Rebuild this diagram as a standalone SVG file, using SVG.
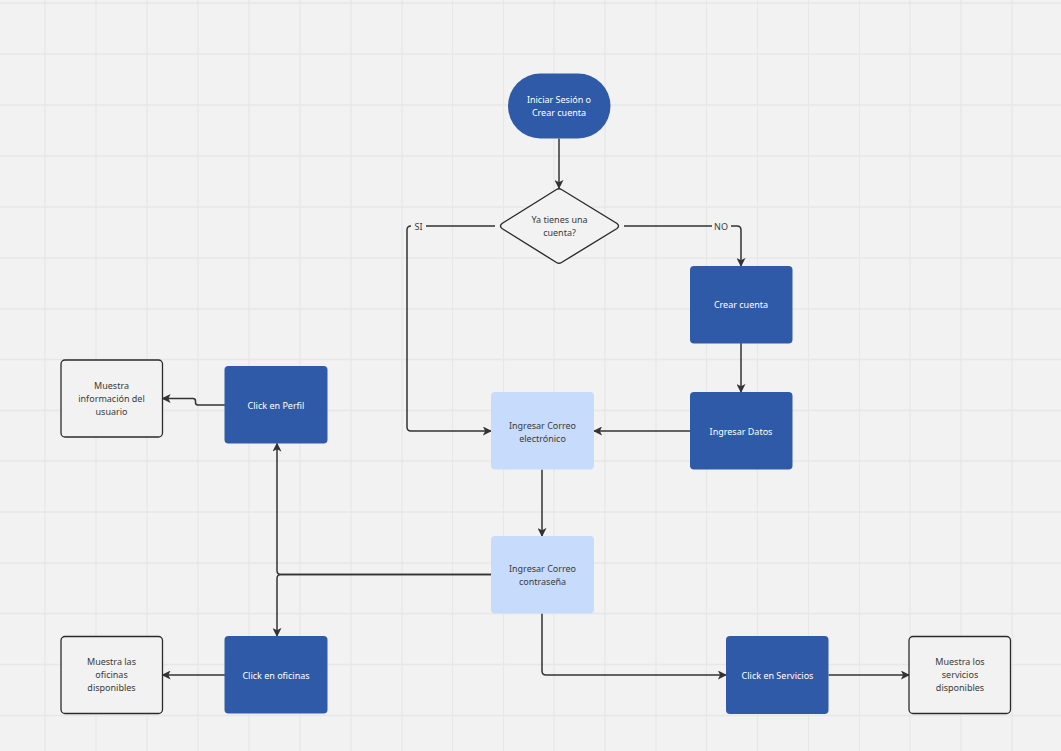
<svg xmlns="http://www.w3.org/2000/svg" width="1061" height="751" viewBox="0 0 1061 751">
  <defs>
    <marker id="arrow" viewBox="0 0 10 10" refX="9" refY="5" markerWidth="9" markerHeight="9" markerUnits="userSpaceOnUse" orient="auto">
      <path d="M0,0 L10,5 L0,10 L2.5,5 Z" fill="#333333"/>
    </marker>
    <style>
      .grid { stroke: #e7e7e7; stroke-width: 1.3; fill: none; }
      .blue { fill: #2f5aa8; }
      .light { fill: #c7dcfc; }
      .outline { fill: #f2f2f2; stroke: #2b2b2b; stroke-width: 1.3; }
      .t { font-family: "Noto Sans", "Open Sans", sans-serif; font-size: 9px; text-anchor: middle; }
      .tw { fill: #ffffff; }
      .td { fill: #3a3a3a; }
      .edge { fill: none; stroke: #333333; stroke-width: 1.5; marker-end: url(#arrow); }
      .lbl { font-family: "Noto Sans", "Open Sans", sans-serif; font-size: 9px; fill: #3a3a3a; text-anchor: middle; }
    </style>
  </defs>

  <!-- canvas -->
  <rect x="0" y="0" width="1061" height="751" fill="#f2f2f2"/>
  <path class="grid" d="M45,0V751 M96,0V751 M147,0V751 M198,0V751 M249,0V751 M300,0V751 M351,0V751 M402,0V751 M452.5,0V751 M503.5,0V751 M554,0V751 M605,0V751 M656,0V751 M706.5,0V751 M757.5,0V751 M808.5,0V751 M859.5,0V751 M910,0V751 M961,0V751 M1012,0V751
    M0,3H1061 M0,54H1061 M0,105H1061 M0,156H1061 M0,207H1061 M0,258H1061 M0,309H1061 M0,359.5H1061 M0,410.5H1061 M0,461H1061 M0,512H1061 M0,563H1061 M0,613.5H1061 M0,664.5H1061 M0,715.5H1061"/>

  <!-- connectors -->
  <g id="connectors">
    <path class="edge" d="M559,138.5 V188"/>
    <path class="edge" d="M495,226 H411 Q407,226 407,230 V427 Q407,431 411,431 H491"/>
    <path class="edge" d="M624,226 H737 Q741,226 741,230 V266"/>
    <path class="edge" d="M741,343 V392"/>
    <path class="edge" d="M690,431 H594"/>
    <path class="edge" d="M542,469.5 V536"/>
    <path class="edge" d="M491,574.5 H281 Q277,574.5 277,570.5 V443.5"/>
    <path class="edge" d="M491,574.5 H281 Q277,574.5 277,578.5 V636"/>
    <path class="edge" d="M542,613.5 V671 Q542,675 546,675 H726"/>
    <path class="edge" d="M828.5,675 H909"/>
    <path class="edge" d="M225,675 H162.5"/>
    <path class="edge" d="M225,405 H198 Q195.5,405 195.5,402.5 V401 Q195.5,398.5 193,398.5 H162.5"/>
    <rect x="411" y="220" width="15" height="12" fill="#f2f2f2"/>
    <text class="lbl" x="418.5" y="229.5">SI</text>
    <rect x="712" y="220" width="19" height="12" fill="#f2f2f2"/>
    <text class="lbl" x="721" y="229.5">NO</text>
  </g>

  <!-- nodes -->
  <g id="inicio">
    <rect class="blue" x="508" y="73.5" width="102.5" height="65" rx="32.5"/>
    <text class="t tw" x="559" y="103">Iniciar Sesión o</text>
    <text class="t tw" x="559" y="116">Crear cuenta</text>
  </g>

  <g id="decision">
    <path d="M556.5,189.5 Q559,188 561.5,189.5 L617,223.5 Q620,226 617,228.5 L561.5,262.5 Q559,264 556.5,262.5 L502,228.5 Q499,226 502,223.5 Z" fill="#f2f2f2" stroke="#2b2b2b" stroke-width="1.4"/>
    <text class="t td" x="559.5" y="223">Ya tienes una</text>
    <text class="t td" x="559.5" y="236">cuenta?</text>
  </g>

  <g id="crear-cuenta">
    <rect class="blue" x="690" y="266" width="102.5" height="77.5" rx="4"/>
    <text class="t tw" x="741" y="308">Crear cuenta</text>
  </g>

  <g id="ingresar-datos">
    <rect class="blue" x="690" y="392" width="102.5" height="77.5" rx="4"/>
    <text class="t tw" x="741" y="435">Ingresar Datos</text>
  </g>

  <g id="correo-electronico">
    <rect class="light" x="491" y="392" width="103" height="77.5" rx="4"/>
    <text class="t td" x="542.5" y="428.5">Ingresar Correo</text>
    <text class="t td" x="542.5" y="441.5">electrónico</text>
  </g>

  <g id="correo-contrasena">
    <rect class="light" x="491" y="536" width="103" height="77.5" rx="4"/>
    <text class="t td" x="542.5" y="571.5">Ingresar Correo</text>
    <text class="t td" x="542.5" y="584.5">contraseña</text>
  </g>

  <g id="click-perfil">
    <rect class="blue" x="224.5" y="366" width="103" height="77.5" rx="4"/>
    <text class="t tw" x="276" y="408.5">Click en Perfil</text>
  </g>

  <g id="info-usuario">
    <rect class="outline" x="61" y="360" width="101.5" height="77" rx="4"/>
    <text class="t td" x="111.5" y="389">Muestra</text>
    <text class="t td" x="111.5" y="402">información del</text>
    <text class="t td" x="111.5" y="415">usuario</text>
  </g>

  <g id="click-oficinas">
    <rect class="blue" x="224.5" y="636" width="103" height="77.5" rx="4"/>
    <text class="t tw" x="276" y="678.5">Click en oficinas</text>
  </g>

  <g id="info-oficinas">
    <rect class="outline" x="61" y="636.5" width="101.5" height="77" rx="4"/>
    <text class="t td" x="111.5" y="665">Muestra las</text>
    <text class="t td" x="111.5" y="678">oficinas</text>
    <text class="t td" x="111.5" y="691">disponibles</text>
  </g>

  <g id="click-servicios">
    <rect class="blue" x="726" y="636" width="102.5" height="78" rx="4"/>
    <text class="t tw" x="777.5" y="678.5">Click en Servicios</text>
  </g>

  <g id="info-servicios">
    <rect class="outline" x="909" y="636.5" width="101.5" height="77" rx="4"/>
    <text class="t td" x="960" y="665">Muestra los</text>
    <text class="t td" x="960" y="678">servicios</text>
    <text class="t td" x="960" y="691">disponibles</text>
  </g>
</svg>
